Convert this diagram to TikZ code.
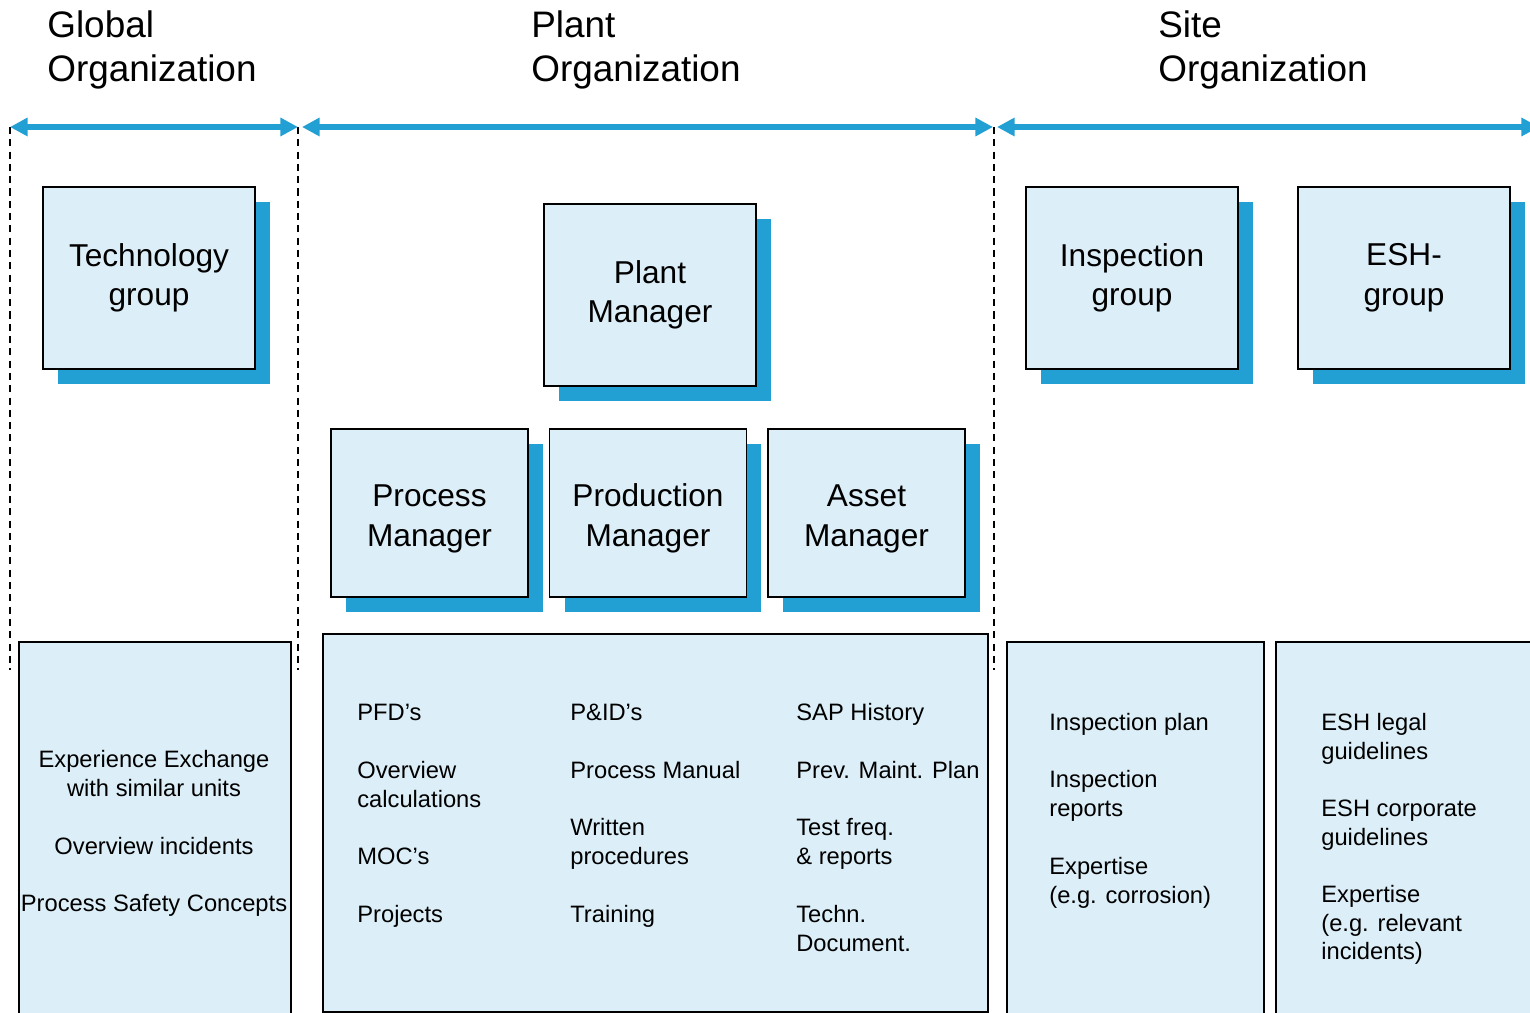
\documentclass[tikz,border=0pt]{standalone}
\usepackage{fontspec}
\setmainfont{Liberation Sans}
\usetikzlibrary{arrows.meta,shadows}
\definecolor{orgblue}{RGB}{34,160,212}
\definecolor{orgfill}{RGB}{220,238,247}

\begin{document}
\begin{tikzpicture}[x=0.02cm,y=-0.02cm,
  head/.style={font=\fontsize{21}{25.5}\selectfont,align=left,anchor=base west,inner sep=0pt},
  role/.style={draw,line width=1pt,fill=orgfill,align=center,font=\fontsize{18}{22.5}\selectfont,
    drop shadow={shadow xshift=0.3cm,shadow yshift=-0.3cm,fill=orgblue,opacity=1}},
  pane/.style={draw,line width=1pt,fill=orgfill,anchor=north west,inner sep=0pt},
  item/.style={font=\fontsize{13.5}{16.3}\selectfont,align=left,anchor=base west,inner sep=0pt},
  span/.style={orgblue,line width=3.4pt,{Triangle[length=10pt,width=10pt]}-{Triangle[length=10pt,width=10pt]}},
  bound/.style={dash pattern=on 4pt off 3pt,line width=0.8pt}]
\useasboundingbox (0,0) rectangle (1530,1013);
\clip (0,0) rectangle (1530,1013);

% headings (base = last line)
\node[head] (global) at (47,82) {Global\\Organization};
\node[head] (plant) at (531,82) {Plant\\Organization};
\node[head] (site) at (1158,82) {Site\\Organization};

% span arrows and borders
\coordinate (a0) at (10,127);
\coordinate (a1) at (298,127);
\coordinate (a2) at (302,127);
\coordinate (a3) at (993,127);
\coordinate (a4) at (997,127);
\coordinate (a5) at (1539,127);
\coordinate (b0) at (10,670);
\coordinate (b1) at (298,670);
\coordinate (b3) at (994,670);
\draw[bound] (a0) -- (b0);
\draw[bound] (a1) -- (b1);
\draw[bound] (994,127) -- (b3);
\draw[span] (a0) -- (a1);
\draw[span] (a2) -- (a3);
\draw[span] (a4) -- (a5);

% roles
\node[role,minimum width=4.24cm,minimum height=3.64cm] (tech) at (149,278) {Technology\\group};
\node[role,minimum width=4.24cm,minimum height=3.64cm] (pm) at (650,295) {Plant\\Manager};
\node[role,minimum width=4.24cm,minimum height=3.64cm] (insp) at (1132,278) {Inspection\\group};
\node[role,minimum width=4.24cm,minimum height=3.64cm] (esh) at (1404,278) {ESH-\\group};
\node[role,minimum width=3.94cm,minimum height=3.36cm] (proc) at (429.5,513) {\rule{0pt}{19pt}Process\\Manager};
\node[role,minimum width=3.94cm,minimum height=3.36cm] (prod) at (648,513) {\rule{0pt}{19pt}Production\\Manager};
\node[role,minimum width=3.94cm,minimum height=3.36cm] (asset) at (866.5,513) {\rule{0pt}{19pt}Asset\\Manager};

% knowledge panes
\node[pane,minimum width=5.44cm,minimum height=8cm] (gpane) at (18,641) {};
\node[pane,minimum width=13.3cm,minimum height=7.56cm] (ppane) at (322,633) {};
\node[pane,minimum width=5.14cm,minimum height=8cm] (ipane) at (1006,641) {};
\node[pane,minimum width=6cm,minimum height=8cm] (epane) at (1275,641) {};

% global items
\node[item,align=center,anchor=base] (g1) at (154,796.2) {Experience Exchange\\with similar units};
\node[item,align=center,anchor=base] (g2) at (154,854.5) {Overview incidents};
\node[item,align=center,anchor=base] (g3) at (154,911.5) {Process Safety Concepts};

% plant items
\node[item] (p1) at (357,720.5) {PFD’s};
\node[item] (p2) at (357,807.2) {Overview\\calculations};
\node[item] (p3) at (357,864.5) {MOC’s};
\node[item] (p4) at (357,922.5) {Projects};
\node[item] (p5) at (570,720.5) {P\&ID’s};
\node[item] (p6) at (570,778.5) {Process Manual};
\node[item] (p7) at (570,864.2) {Written\\procedures};
\node[item] (p8) at (570,922.5) {Training};
\node[item] (p9) at (796,720.5) {SAP History};
\node[item] (p10) at (796,778.5) {Prev. Maint. Plan};
\node[item] (p11) at (796,864.2) {Test freq.\\\& reports};
\node[item] (p12) at (796,951.2) {Techn.\\Document.};

% site items
\node[item] (i1) at (1049,730.5) {Inspection plan};
\node[item] (i2) at (1049,816.2) {Inspection\\reports};
\node[item] (i3) at (1049,903.2) {Expertise\\(e.g. corrosion)};
\node[item] (e1) at (1321,759.2) {ESH legal\\guidelines};
\node[item] (e2) at (1321,845.2) {ESH corporate\\guidelines};
\node[item] (e3) at (1321,959.9) {Expertise\\(e.g. relevant\\incidents)};
\end{tikzpicture}
\end{document}
